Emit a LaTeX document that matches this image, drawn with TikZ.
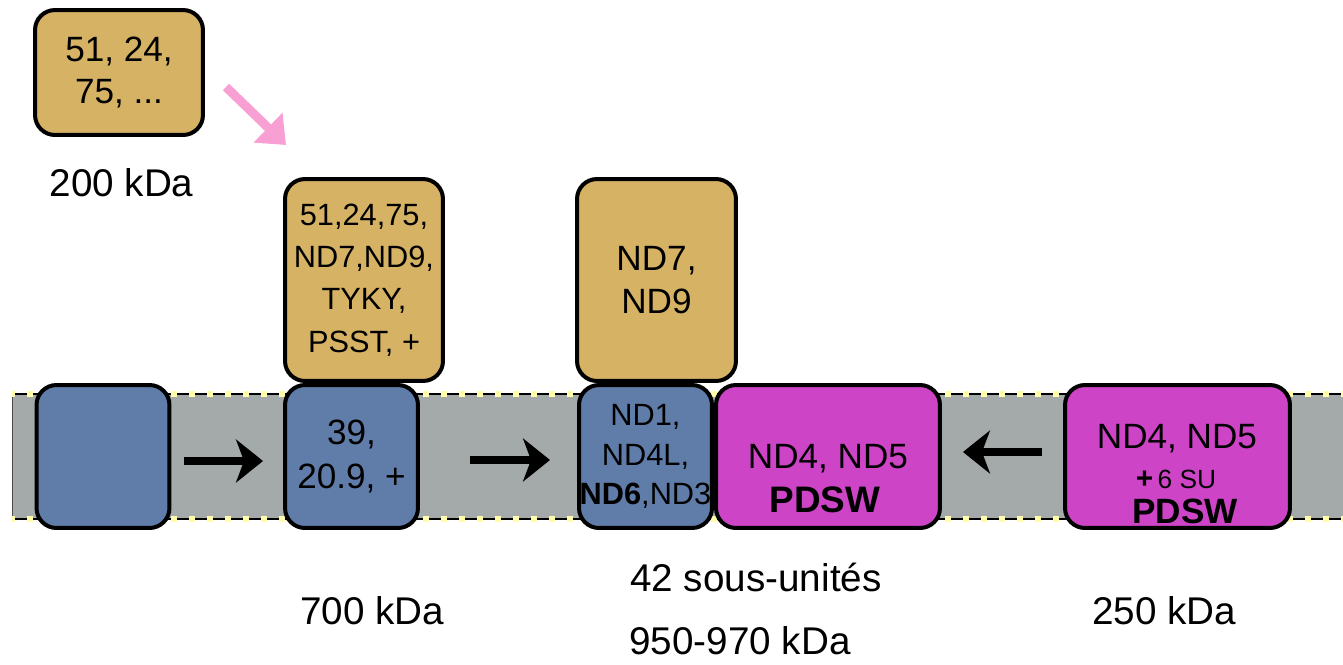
\documentclass[tikz,border=0pt]{standalone}
\usepackage{fontspec}
\setmainfont{Liberation Sans}
\usetikzlibrary{arrows.meta}
\definecolor{gold}{RGB}{214,178,100}
\definecolor{bluebox}{RGB}{96,124,168}
\definecolor{magbox}{RGB}{206,68,198}
\definecolor{band}{RGB}{164,170,170}
\definecolor{dotyel}{RGB}{255,252,170}
\definecolor{pinkar}{RGB}{248,160,212}
\begin{document}
\begin{tikzpicture}[x=0.02cm,y=-0.02cm,
  box/.style={draw=black, line width=0.08cm, rounded corners=0.4cm, inner sep=0pt, outer sep=0pt, align=center},
  goldbox/.style={box, fill=gold},
  bluebx/.style={box, fill=bluebox},
  magbx/.style={box, fill=magbox},
  lbl/.style={font=\fontsize{22}{26}\selectfont, inner sep=0pt},
  intxt/.style={inner sep=0pt, anchor=base},
  blk/.style={-{Stealth[length=0.54cm,width=0.86cm,inset=0.16cm]}, line width=0.16cm},
  pinkarrow/.style={-{Triangle[length=0.5cm,width=0.8cm]}, line width=0.18cm, draw=pinkar},
  edge line/.style={line width=0.045cm, draw=black},
  edge dots/.style={line width=0.13cm, draw=dotyel, dash pattern=on 0.12cm off 0.24cm, dash phase=-0.3cm},
  ]
\useasboundingbox (0,0) rectangle (1343,664);

% membrane band
\fill[band] (12,394) rectangle (1343,519);
\draw[line width=0.02cm, black!70] (12,394) -- (12,519);
\draw[edge line] (12,394) -- (1343,394);
\draw[edge line] (12,519) -- (1343,519);
\draw[edge dots] (12,394) -- (1343,394);
\draw[edge dots] (12,519) -- (1343,519);

% top-left gold box
\node[goldbox, minimum width=3.36cm, minimum height=2.5cm,
      font=\fontsize{20}{23.5}\selectfont] (gold1) at (119,72.5) {51, 24,\\75, ...};
\node[lbl] (l200) at (121.5,183) {200 kDa};

% blue boxes
\node[bluebx, minimum width=2.66cm, minimum height=2.86cm] (blue1) at (103,456.5) {};
\node[bluebx, minimum width=2.66cm, minimum height=2.86cm,
      font=\fontsize{20}{25}\selectfont] (blue2) at (351.5,456.5) {39,\\20.9, +};
\node[bluebx, minimum width=2.66cm, minimum height=2.86cm,
      font=\fontsize{17.5}{22.5}\selectfont] (blue3) at (645.5,456.5) {ND1,\\ND4L,\\\textbf{ND6},ND3};

% gold boxes above
\node[goldbox, minimum width=3.16cm, minimum height=4.04cm,
      font=\fontsize{17.5}{24}\selectfont] (gold2) at (364,280) {51,24,75,\\ND7,ND9,\\TYKY,\\PSST, +};
\node[goldbox, minimum width=3.18cm, minimum height=4.04cm,
      font=\fontsize{20}{24}\selectfont] (gold3) at (656.5,280) {ND7,\\ND9};

% magenta boxes
\node[magbx, minimum width=4.48cm, minimum height=2.86cm] (mag1) at (828,456.5) {};
\node[intxt, font=\fontsize{20}{24}\selectfont] (m1a) at (828,468) {ND4, ND5};
\node[intxt, font=\fontsize{21}{24}\selectfont\bfseries] (m1b) at (825,512) {PDSW};

\node[magbx, minimum width=4.5cm, minimum height=2.86cm] (mag2) at (1177.5,456.5) {};
\node[intxt, font=\fontsize{20}{24}\selectfont] (m2a) at (1177,448) {ND4, ND5};
\node[intxt, font=\fontsize{15}{18}\selectfont] (m2b) at (1176,488) {\textbf{\fontsize{17}{18}\selectfont +}\,6 SU};
\node[intxt, font=\fontsize{20}{24}\selectfont\bfseries] (m2c) at (1185,523) {PDSW};

% arrows
\draw[blk, shorten <=0.3cm, shorten >=0.44cm]
  ([yshift=-0.09cm]blue1.east) -- ([yshift=-0.09cm]blue2.west);
\draw[blk, shorten <=1.04cm, shorten >=0.58cm]
  ([yshift=-0.07cm]blue2.east) -- ([yshift=-0.07cm]blue3.west);
\draw[blk, shorten <=0.46cm, shorten >=0.46cm]
  ([yshift=0.09cm]mag2.west) -- ([yshift=0.09cm]mag1.east);

\coordinate (p1) at (226,87);
\coordinate (p2) at (286,145);
\draw[pinkarrow] (p1) -- (p2);

% labels
\node[lbl] (l42) at (756,577) {42 sous-unités};
\node[lbl] (l700) at (372,611) {700 kDa};
\node[lbl] (l250) at (1164,611) {250 kDa};
\node[lbl] (l950) at (740,641) {950-970 kDa};
\end{tikzpicture}
\end{document}
